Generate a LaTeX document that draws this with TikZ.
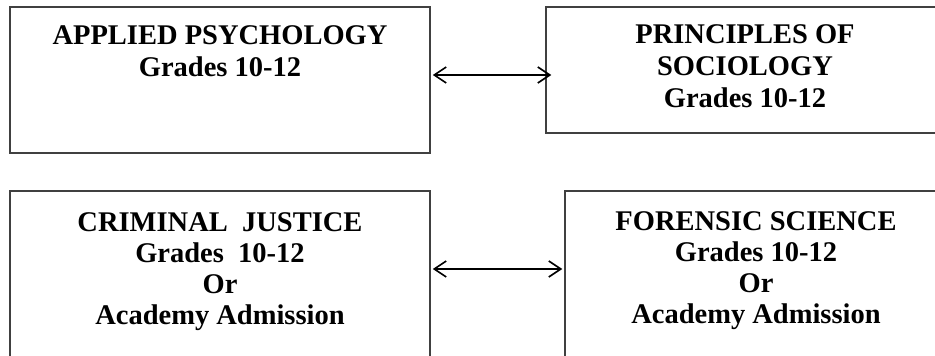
\documentclass[tikz,border=0pt]{standalone}
\usepackage{fontspec}
\setmainfont{Liberation Serif}
\usetikzlibrary{positioning,arrows.meta}

\begin{document}
\begin{tikzpicture}[x=1pt, y=1pt,
		course/.style={draw=black!75, line width=1.5pt, inner sep=0pt},
		title/.style={align=center, inner sep=0pt, font=\fontsize{28.5}{32}\selectfont\bfseries},
		link/.style={line width=1.6pt, {Straight Barb[length=12pt,width=16pt]}-{Straight Barb[length=12pt,width=16pt]}}]
			%%%%% START %%%%%
			
			\useasboundingbox (0, 0) rectangle (935, -356);
			\clip (0, 0) rectangle (935, -356);
			
			\node[course, minimum width=420, minimum height=146] (psy) at (220, -80) {};
			\node[course, minimum width=398, minimum height=126] (soc) at (745, -70) {};
			\node[course, minimum width=420, minimum height=179] (crim) at (220, -280.5) {};
			\node[course, minimum width=382, minimum height=179] (fors) at (756, -280.5) {};
			
			\node[title, below=19 of psy.north] (psytxt) {APPLIED PSYCHOLOGY\\Grades 10-12};
			\node[title, below=18 of soc.north] (soctxt) {PRINCIPLES OF\\SOCIOLOGY\\Grades 10-12};
			\node[title, below=22 of crim.north, font=\fontsize{28.5}{31}\selectfont\bfseries] (crimtxt) {CRIMINAL~ JUSTICE\\Grades~ 10-12\\Or\\Academy Admission};
			\node[title, below=21 of fors.north, font=\fontsize{28.5}{31}\selectfont\bfseries] (forstxt) {FORENSIC SCIENCE\\Grades 10-12\\Or\\Academy Admission};
			
			\draw[link, shorten <=2pt, shorten >=-6pt] ([yshift=5]psy.east) -- ([yshift=5]psy.east -| soc.west);
			\draw[link, shorten <=2pt, shorten >=2pt] ([yshift=11.5]crim.east) -- ([yshift=11.5]crim.east -| fors.west);
			
			%%%%% END %%%%%
		\end{tikzpicture}
\end{document}
